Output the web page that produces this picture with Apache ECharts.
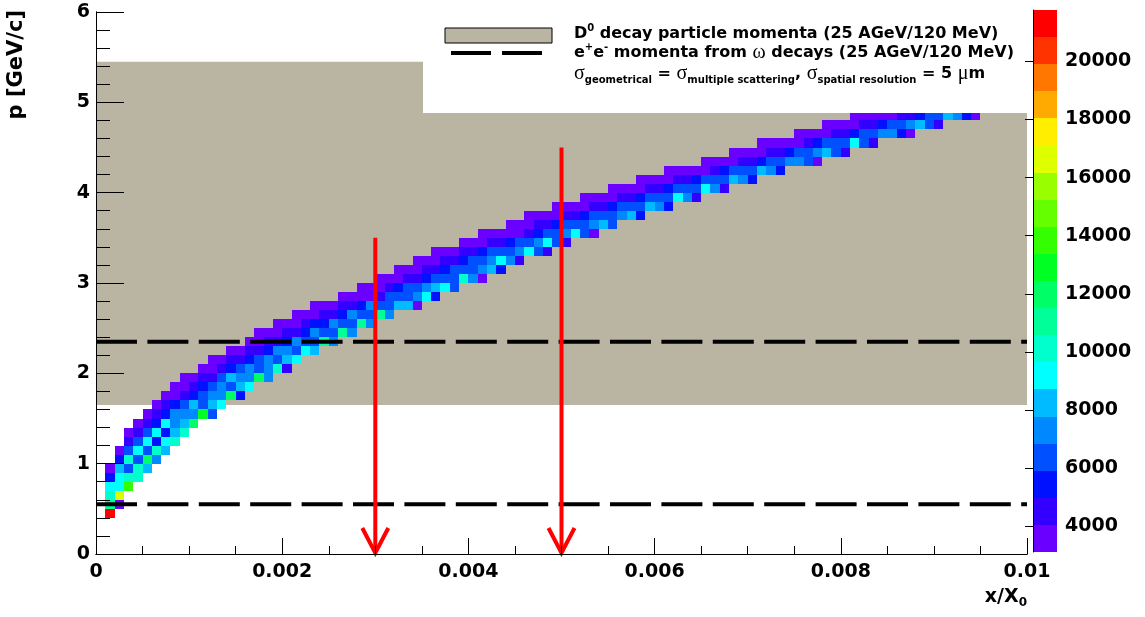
<!DOCTYPE html>
<html>
  <head>
    <meta charset="utf-8" />
    <title>p vs x/X0</title>
    <script src="https://cdn.jsdelivr.net/npm/echarts@6/dist/echarts.min.js"></script>
    <style>
      html, body { margin: 0; padding: 0; background: #fff; }
      #main { width: 1145px; height: 617px; }
    </style>
  </head>
  <body>
    <div id="main"></div>
    <script type="text/javascript">
      var myChart = echarts.init(document.getElementById('main'));

      // histogram binning
      const binX = 0.0001;
      const binP = 0.1;

      // 2D histogram, one entry per p row: lower p edge, first x bin, counts
      const rowP = [0.4, 0.5, 0.6, 0.7, 0.8, 0.9, 1.0, 1.1, 1.2, 1.3, 1.4, 1.5, 1.6, 1.7, 1.8, 1.9,
        2.0, 2.1, 2.2, 2.3, 2.4, 2.5, 2.6, 2.7, 2.8, 2.9, 3.0, 3.1, 3.2, 3.3, 3.4, 3.5, 3.6, 3.7,
        3.8, 3.9, 4.0, 4.1, 4.2, 4.3, 4.4, 4.5, 4.6, 4.7, 4.8];
      const rowStartBin = [1, 1, 1, 1, 1, 1, 2, 2, 3, 3, 4, 5, 6, 7, 8, 9,
        11, 12, 14, 16, 17, 19, 21, 23, 26, 28, 30, 32, 34, 36, 39, 41, 44, 46,
        49, 52, 55, 58, 61, 65, 68, 71, 75, 78, 81];
      const rowCounts = [
        [21300],
        [11000, 3600],
        [10100, 16600],
        [9200, 9200, 13800],
        [5400, 9200, 10100, 10100],
        [3600, 8200, 6400, 10100, 8200],
        [5400, 10100, 6400, 12000, 7300],
        [3600, 6400, 9200, 6400, 10100, 8200],
        [4500, 6400, 9200, 5400, 9200, 10100],
        [3600, 4500, 6400, 9200, 5400, 8200, 10100],
        [3600, 4500, 5400, 9200, 7300, 8200, 12000],
        [3600, 4500, 5400, 7300, 7300, 7300, 12900, 6400],
        [3600, 4500, 5400, 6400, 8200, 6400, 8200, 9200],
        [3600, 3600, 4500, 5400, 6400, 7300, 7300, 12000, 5400],
        [3600, 3600, 4500, 5400, 6400, 7300, 6400, 8200, 9200],
        [3600, 3600, 4500, 4500, 6400, 8200, 7300, 7300, 12000, 7300],
        [3600, 3600, 4500, 5400, 6400, 7300, 6400, 7300, 10100, 4500],
        [3600, 3600, 4500, 4500, 5400, 6400, 7300, 6400, 8200, 9200],
        [3600, 3600, 4500, 4500, 5400, 7300, 7300, 6400, 9200, 8200],
        [3600, 3600, 4500, 4500, 5400, 7300, 6400, 6400, 11000, 7300],
        [3600, 3600, 3600, 4500, 4500, 5400, 7300, 6400, 6400, 11000, 7300],
        [3600, 3600, 3600, 4500, 5400, 5400, 7300, 6400, 6400, 11000, 7300],
        [3600, 3600, 3600, 4500, 4500, 5400, 7300, 6400, 6400, 11000, 7300],
        [3600, 3600, 3600, 4500, 4500, 5400, 7300, 6400, 6400, 8200, 8200, 3600],
        [3600, 3600, 3600, 3600, 4500, 6400, 6400, 6400, 7300, 9200, 5400],
        [3600, 3600, 3600, 4500, 5400, 6400, 6400, 7300, 8200, 9200, 6400],
        [3600, 3600, 3600, 4500, 4500, 5400, 6400, 6400, 6400, 10100, 7300, 3600],
        [3600, 3600, 3600, 4500, 4500, 5400, 6400, 6400, 6400, 7300, 8200, 5400],
        [3600, 3600, 3600, 4500, 4500, 5400, 6400, 6400, 7300, 9200, 7300, 4500],
        [3600, 3600, 3600, 4500, 4500, 5400, 6400, 6400, 6400, 7300, 9200, 6400, 4500],
        [3600, 3600, 3600, 4500, 4500, 5400, 6400, 6400, 7300, 9200, 6400, 4500],
        [3600, 3600, 3600, 3600, 3600, 4500, 5400, 6400, 6400, 7300, 9200, 6400, 3600],
        [3600, 3600, 3600, 4500, 4500, 5400, 6400, 6400, 6400, 7300, 8200, 6400],
        [3600, 3600, 3600, 3600, 4500, 4500, 5400, 6400, 6400, 6400, 7300, 8200, 5400],
        [3600, 3600, 3600, 3600, 4500, 4500, 5400, 6400, 6400, 6400, 8200, 7300, 5400],
        [3600, 3600, 3600, 3600, 4500, 4500, 5400, 6400, 6400, 6400, 9200, 7300, 4500],
        [3600, 3600, 3600, 3600, 4500, 4500, 5400, 6400, 6400, 6400, 9200, 7300, 4500],
        [3600, 3600, 3600, 3600, 4500, 4500, 5400, 6400, 6400, 6400, 8200, 7300, 5400],
        [3600, 3600, 3600, 3600, 3600, 4500, 5400, 6400, 6400, 6400, 8200, 7300, 5400],
        [3600, 3600, 3600, 3600, 4500, 4500, 5400, 6400, 6400, 7300, 7300, 6400, 3600],
        [3600, 3600, 3600, 3600, 4500, 4500, 5400, 6400, 6400, 7300, 8200, 6400, 4500],
        [3600, 3600, 3600, 3600, 3600, 4500, 5400, 6400, 6400, 6400, 9200, 6400, 4500],
        [3600, 3600, 3600, 3600, 4500, 4500, 5400, 6400, 6400, 7300, 7300, 5400, 3600],
        [3600, 3600, 3600, 3600, 4500, 4500, 5400, 6400, 6400, 7300, 8200, 6400, 4500],
        [3600, 3600, 3600, 3600, 3600, 4500, 4500, 5400, 6400, 6400, 8200, 7300, 5400, 3600]
      ];

      // shaded band, dashed limits, arrows
      const bandX = [0, 0.01];
      const bandP = [1.65, 5.45];
      const dashedP = [2.35, 0.55];
      const arrowX = [0.003, 0.005];
      const arrowTopP = [3.5, 4.5];

      // colour scale (20 contours)
      const zMin = 3120;
      const zMax = 21764;
      const palette = ['#6a00ff', '#3300ff', '#0011ff', '#0050ff', '#0088ff', '#00bbff', '#00ffff',
        '#00ffcc', '#00ff99', '#00ff66', '#00ff22', '#33ff00', '#66ff00', '#99ff00', '#ddff00',
        '#ffee00', '#ffaa00', '#ff7700', '#ff3300', '#ff0000'];
      const colorTicks = [4000, 6000, 8000, 10000, 12000, 14000, 16000, 18000, 20000];

      const FONT = 'DejaVu Sans';
      const bandColor = '#bab4a3';

      // build data
      let cells = [];
      rowP.forEach((p, r) => {
        rowCounts[r].forEach((c, k) => {
          cells.push([(rowStartBin[r] + k) * binX, p, c]);
        });
      });
      const step = (zMax - zMin) / palette.length;
      let pieces = [];
      let levels = [];
      palette.forEach((col, i) => {
        pieces.push({ gte: zMin + i * step, lt: zMin + (i + 1) * step, color: col });
        levels.push([zMin + i * step, zMin + (i + 1) * step, i]);
      });

      function renderCell(params, api) {
        const x = api.value(0), p = api.value(1);
        const a = api.coord([x, p]);
        const b = api.coord([x + binX, p + binP]);
        const x0 = Math.round(a[0]), x1 = Math.round(b[0]);
        const y0 = Math.round(b[1]), y1 = Math.round(a[1]);
        return {
          type: 'rect',
          shape: { x: x0, y: y0, width: x1 - x0, height: y1 - y0 },
          style: { fill: api.visual('color') }
        };
      }

      function renderBand(params, api) {
        const a = api.coord([api.value(0), api.value(1)]);
        const b = api.coord([api.value(2), api.value(3)]);
        return {
          type: 'rect',
          shape: { x: a[0], y: b[1], width: b[0] - a[0], height: a[1] - b[1] },
          style: { fill: bandColor }
        };
      }

      function renderArrow(params, api) {
        const top = api.coord([api.value(0), api.value(1)]);
        const tip = api.coord([api.value(0), 0]);
        return {
          type: 'group',
          children: [
            { type: 'line', shape: { x1: top[0], y1: top[1], x2: tip[0], y2: tip[1] - 2 },
              style: { stroke: '#ff0000', lineWidth: 4 } },
            { type: 'polyline', shape: { points: [[tip[0] - 13, tip[1] - 26], [tip[0], tip[1] - 1], [tip[0] + 13, tip[1] - 26]] },
              style: { stroke: '#ff0000', lineWidth: 4, fill: null } }
          ]
        };
      }

      function renderLevel(params, api) {
        const a = api.coord([0, api.value(0)]);
        const b = api.coord([1, api.value(1)]);
        return {
          type: 'rect',
          shape: { x: a[0], y: Math.round(b[1]), width: b[0] - a[0], height: Math.round(a[1]) - Math.round(b[1]) },
          style: { fill: palette[api.value(2)] }
        };
      }

      const labelFont = { fontFamily: FONT, fontWeight: 'bold', fontSize: 19, color: '#000' };
      const blackLine = { show: true, lineStyle: { color: '#000', width: 1 } };

      let series = [
        {
          type: 'custom', name: 'band', xAxisIndex: 0, yAxisIndex: 0, z: 1, silent: true,
          renderItem: renderBand, encode: { x: [0, 2], y: [1, 3] },
          data: [[bandX[0], bandP[0], bandX[1], bandP[1]]]
        },
        {
          type: 'custom', name: 'cells', xAxisIndex: 0, yAxisIndex: 0, z: 2, silent: true,
          renderItem: renderCell, encode: { x: 0, y: 1 }, dimensions: ['x', 'p', 'n'],
          data: cells
        }
      ];
      dashedP.forEach((p) => {
        series.push({
          type: 'line', xAxisIndex: 0, yAxisIndex: 0, z: 3, silent: true, symbol: 'none',
          lineStyle: { color: '#000', width: 4, type: [41, 10.4], cap: 'butt' },
          data: [[bandX[0], p], [bandX[1], p]]
        });
      });
      series.push({
        type: 'custom', name: 'arrows', xAxisIndex: 0, yAxisIndex: 0, z: 4, silent: true,
        renderItem: renderArrow, encode: { x: 0, y: 1 },
        data: arrowX.map((x, i) => [x, arrowTopP[i]])
      });
      series.push({
        type: 'custom', name: 'palette', xAxisIndex: 2, yAxisIndex: 2, z: 2, silent: true,
        renderItem: renderLevel, encode: { y: [0, 1] },
        data: levels
      });

      const sup = { fontFamily: FONT, fontWeight: 'bold', fontSize: 10, fill: '#000', verticalAlign: 'top' };
      const sub = { fontFamily: FONT, fontWeight: 'bold', fontSize: 10, fill: '#000', verticalAlign: 'bottom' };
      const main = { fontFamily: FONT, fontWeight: 'bold', fontSize: 16, fill: '#000', lineHeight: 22 };
      const sym = { fontFamily: 'Liberation Serif', fontSize: 20, fill: '#000', lineHeight: 22 };
      const legendRich = { b: main, sup: sup, sub: sub, sym: sym };

      let option = {
        animation: false,
        backgroundColor: '#fff',
        grid: [
          { left: 96, right: 118, top: 12, bottom: 63 },
          { left: 1033, width: 24, top: 10, bottom: 65 }
        ],
        xAxis: [
          {
            type: 'value', gridIndex: 0, min: 0, max: 0.01, interval: 0.002, z: 10,
            axisLine: blackLine,
            axisTick: { show: true, inside: true, length: 16, lineStyle: { color: '#000' } },
            minorTick: { show: true, splitNumber: 4, length: 8, lineStyle: { color: '#000' } },
            splitLine: { show: false },
            axisLabel: Object.assign({ margin: 9, showMinLabel: true, showMaxLabel: true,
              formatter: (v) => (v === 0 ? '0' : String(+v.toFixed(4))) }, labelFont)
          },
          {
            type: 'value', gridIndex: 0, position: 'top', min: 0, max: 0.01, z: 10,
            axisLine: blackLine, axisTick: { show: false }, axisLabel: { show: false }, splitLine: { show: false }
          },
          {
            type: 'value', gridIndex: 1, min: 0, max: 1, show: false
          }
        ],
        yAxis: [
          {
            type: 'value', gridIndex: 0, min: 0, max: 6, interval: 1, z: 10,
            axisLine: blackLine,
            axisTick: { show: true, inside: true, length: 28, lineStyle: { color: '#000' } },
            minorTick: { show: true, splitNumber: 5, length: 14, lineStyle: { color: '#000' } },
            splitLine: { show: false },
            axisLabel: Object.assign({ margin: 6, showMinLabel: true, showMaxLabel: true }, labelFont)
          },
          {
            type: 'value', gridIndex: 0, position: 'right', min: 0, max: 6, z: 10,
            axisLine: blackLine, axisTick: { show: false }, axisLabel: { show: false }, splitLine: { show: false }
          },
          {
            type: 'value', gridIndex: 1, position: 'right', min: zMin, max: zMax, z: 10,
            axisLine: blackLine,
            axisTick: { show: true, inside: true, length: 8, customValues: colorTicks, lineStyle: { color: '#000' } },
            splitLine: { show: false },
            axisLabel: Object.assign({ margin: 8, customValues: colorTicks, formatter: (v) => String(v) }, labelFont)
          }
        ],
        visualMap: {
          type: 'piecewise', show: false, seriesIndex: 1, dimension: 2, pieces: pieces
        },
        graphic: {
          elements: [
            { type: 'rect', z: 8, silent: true, shape: { x: 423, y: 12, width: 604, height: 101 },
              style: { fill: '#fff' } },
            { type: 'rect', z: 9, silent: true, shape: { x: 445, y: 28, width: 107, height: 15 },
              style: { fill: bandColor, stroke: '#000', lineWidth: 1 } },
            { type: 'line', z: 9, silent: true, shape: { x1: 451, y1: 53, x2: 542, y2: 53 },
              style: { stroke: '#000', lineWidth: 4, lineDash: [40, 11] } },
            { type: 'text', z: 9, silent: true, x: 574, y: 34,
              style: { text: '{b|D}{sup|0}{b| decay particle momenta (25 AGeV/120 MeV)}', rich: legendRich,
                align: 'left', verticalAlign: 'middle' } },
            { type: 'text', z: 9, silent: true, x: 574, y: 53,
              style: { text: '{b|e}{sup|+}{b|e}{sup|-}{b| momenta from }{sym|ω}{b| decays (25 AGeV/120 MeV)}', rich: legendRich,
                align: 'left', verticalAlign: 'middle' } },
            { type: 'text', z: 9, silent: true, x: 574, y: 74,
              style: { text: '{sym|σ}{sub|geometrical}{b| = }{sym|σ}{sub|multiple scattering}{b|, }{sym|σ}{sub|spatial resolution}{b| = 5 }{sym|μ}{b|m}',
                rich: legendRich, align: 'left', verticalAlign: 'middle' } },
            { type: 'text', z: 9, silent: true, x: 17, y: 10, rotation: Math.PI / 2,
              style: { text: 'p [GeV/c]', fontFamily: FONT, fontWeight: 'bold', fontSize: 21, fill: '#000',
                align: 'right', verticalAlign: 'middle' } },
            { type: 'text', z: 9, silent: true, x: 1027, y: 597,
              style: { text: '{b|x/X}{sub|0}', align: 'right', verticalAlign: 'middle',
                rich: { b: { fontFamily: FONT, fontWeight: 'bold', fontSize: 19, fill: '#000', lineHeight: 24 },
                  sub: { fontFamily: FONT, fontWeight: 'bold', fontSize: 12, fill: '#000', verticalAlign: 'bottom' } } } }
          ]
        },
        series: series
      };

      myChart.setOption(option);
    </script>
  </body>
</html>
